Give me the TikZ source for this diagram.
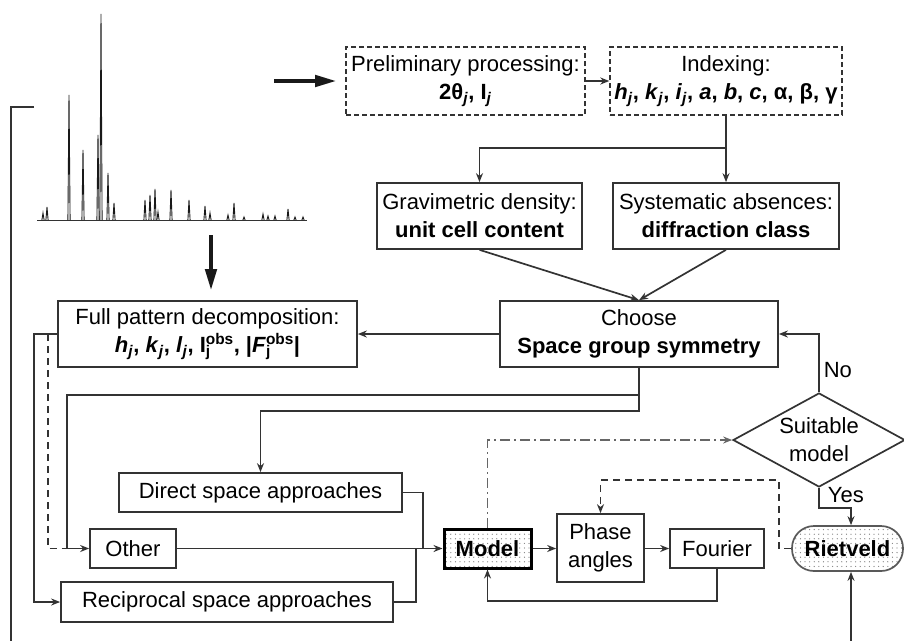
\documentclass[tikz,border=0pt]{standalone}
\usepackage{fontspec}
\setmainfont{Liberation Sans}
\usetikzlibrary{arrows.meta,shapes.geometric,patterns.meta}
\newcommand\sbsp[2]{\makebox[0pt][l]{\textsubscript{#1}}\textsuperscript{#2}}
\tikzdeclarepattern{name=sdots, type=uncolored,
  bounding box={(-1pt,-1pt) and (1pt,1pt)},
  tile size={(4.6pt,4.6pt)},
  code={\fill (0pt,0pt) circle (0.65pt);}}
\begin{document}
\begin{tikzpicture}[x=1pt,y=-1pt,
  font=\fontsize{22}{28}\selectfont,
  line width=1.7pt, draw=black!80,
  arr/.style={-{Stealth[length=9pt,width=7pt]}},
  bigarr/.style={line width=4.5pt, draw=black!90, -{Triangle[length=22pt,width=11pt]}},
  box/.style={draw, line width=1.7pt, inner sep=0pt, align=center},
  dbox/.style={box, line width=1.4pt, dash pattern=on 5pt off 3pt},
  dotfill/.style={pattern=sdots, pattern color=black!50},
  dashdot/.style={draw=black!60, dash pattern=on 10pt off 4pt on 2pt off 4pt},
  dashln/.style={dash pattern=on 7pt off 5pt},
  lbl/.style={inner sep=0pt, anchor=west}
]
\useasboundingbox (0,0) rectangle (904,640);

% ---- spectrum ----
\draw[line width=1pt] (37,220) -- (307,220);
\foreach \x/\t in {43/213,47/207,69/95,83/150,98/135,101/14,108/173,114/203,145/200,150/195,155/189,158/212,171/190,189/200,205/206,210/213,228/215,234/203,244/217,263/214,268/216,275/216,288/209,295/217,303/217}
  \draw[line width=0.9pt, line join=miter, draw=black!90] (\x-1.1,220) -- (\x,\t) -- (\x+1.1,220);

% ---- thick arrows ----
\coordinate (ta1) at (274,81);
\coordinate (ta2) at (337,81);
\draw[bigarr] (ta1) -- (ta2);
\coordinate (tb1) at (211,235);
\coordinate (tb2) at (211,291);
\draw[bigarr] (tb1) -- (tb2);

% ---- nodes ----
\node[dbox, minimum width=239pt, minimum height=68pt] (prelim) at (465.5,81)
  {Preliminary processing:\\ \textbf{2θ\textsubscript{\textit{j}}, I\textsubscript{\textit{j}}}};
\node[dbox, minimum width=232pt, minimum height=68pt] (index) at (726,81)
  {Indexing:\\ \textbf{\textit{h}\textsubscript{\textit{j}}, \textit{k}\textsubscript{\textit{j}}, \textit{i}\textsubscript{\textit{j}}, \textit{a}, \textit{b}, \textit{c}, α, β, γ}};
\node[box, minimum width=205pt, minimum height=66pt] (grav) at (479.5,216)
  {Gravimetric density:\\ \textbf{unit cell content}};
\node[box, minimum width=226pt, minimum height=66pt] (sys) at (726,216)
  {Systematic absences:\\ \textbf{diffraction class}};
\node[box, minimum width=278pt, minimum height=66pt] (choose) at (639,334)
  {Choose\\ \textbf{Space group symmetry}};
\node[box, minimum width=299pt, minimum height=66pt] (full) at (207.5,334)
  {Full pattern decomposition:\\ \textbf{\textit{h}\textsubscript{\textit{j}}, \textit{k}\textsubscript{\textit{j}}, \textit{l}\textsubscript{\textit{j}}, I\sbsp{j}{obs}, |\textit{F}\sbsp{j}{obs}|}};
\node[box, minimum width=283pt, minimum height=39pt] (direct) at (260.5,492.5) {Direct space approaches};
\node[box, minimum width=86pt, minimum height=39pt] (other) at (133,548.5) {Other};
\node[box, minimum width=332pt, minimum height=40pt] (recip) at (227,602) {Reciprocal space approaches};
\node[box, dotfill, line width=3pt, draw=black, minimum width=87pt, minimum height=39pt] (model) at (487.5,548.5) {\textbf{Model}};
\node[box, minimum width=87pt, minimum height=68pt] (phase) at (600.5,548) {Phase\\ angles};
\node[box, minimum width=94pt, minimum height=39pt] (fourier) at (717,548.5) {Fourier};
\node[box, dotfill, draw=black!65, rounded corners=22pt, minimum width=111pt, minimum height=45pt] (riet) at (847.5,548.5) {\textbf{Rietveld}};
\node[draw, diamond, line width=1.7pt, minimum width=172pt, minimum height=94pt, inner sep=0pt, aspect=1.83, align=center] (suit) at (819,440) {Suitable\\ model};

% ---- connectors ----
\draw[arr] (prelim.east) -- (index.west);
\coordinate (jn) at (726,148);
\draw[arr] (index.south) |- (grav.north |- jn) -- (grav.north);
\draw[arr] (index.south) -- (sys.north);
\draw[arr] (grav.south) -- (choose.north);
\draw[arr] (sys.south) -- (choose.north);
\draw[arr] (choose.west) -- (full.east);

\coordinate (c1) at (639,395);
\coordinate (c1l) at (67,395);
\coordinate (c2) at (639,411);
\draw[arr] (choose.south) -- (c2) -| (direct.north);
\draw[arr] (c1) -- (c1l) |- (other.west);

\coordinate (fl) at (34,334);
\coordinate (fd) at (48,334);
\coordinate (fe) at (67,548.5);
\draw[arr] (full.west) -- (fl) |- (recip.west);
\draw[dashln] (fd) -- (fd |- other.west) -- (fe);

\coordinate (dj) at (423,548.5);
\coordinate (rj) at (416,548.5);
\draw (direct.east) -| (dj);
\draw (recip.east) -| (rj);
\draw[arr] (other.east) -- (model.west);
\draw[arr] (model.east) -- (phase.west |- model.east);
\draw[arr] (phase.east |- fourier.west) -- (fourier.west);
\draw[arr] (fourier.south) -- ++(0,32) -| (model.south);

\draw[arr, dashdot] (model.north) |- (suit.west);
\coordinate (dtop) at (779,480);
\draw[arr, dashln] (riet.west) -| (dtop) -| (phase.north);

\draw[arr] (suit.north) |- (choose.east);
\node[lbl] (no) at (823,370) {No};
\coordinate (yj) at (851,508);
\draw[arr] (suit.south) |- (yj) -- (yj |- riet.north);
\node[lbl] (yes) at (827,495) {Yes};

\coordinate (bb) at (851,645);
\draw[arr] (bb) -- (bb |- riet.south);
\coordinate (lt) at (34,107);
\coordinate (lb) at (11,645);
\draw (lt) -| (lb);
\end{tikzpicture}
\end{document}
